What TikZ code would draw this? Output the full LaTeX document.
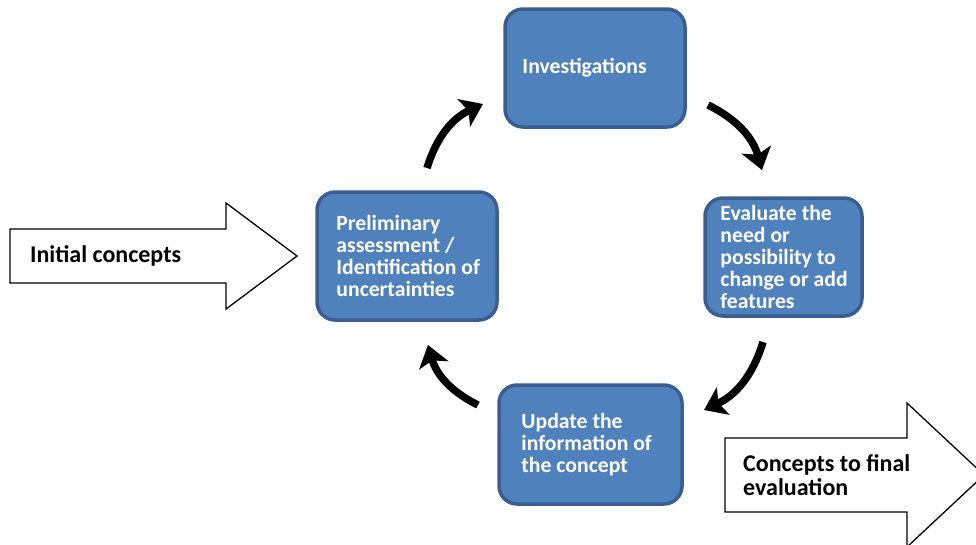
\documentclass[tikz,border=0pt]{standalone}
\usepackage{fontspec}
\setmainfont{Carlito}
\usetikzlibrary{arrows.meta}
\definecolor{stagefill}{HTML}{4F81BD}
\definecolor{stageline}{HTML}{3B5E91}
\begin{document}
\begin{tikzpicture}[x=1pt,y=-1pt,
  stage/.style={draw=stageline, line width=3.5pt, fill=stagefill,
    rounded corners=18pt, inner sep=0pt},
  stagetext/.style={anchor=west, align=left, text=white, inner sep=0pt,
    font=\bfseries\fontsize{21.7}{22}\selectfont},
  plaintext/.style={anchor=west, align=left, text=black, inner sep=0pt,
    font=\bfseries\fontsize{24}{24.5}\selectfont},
  blockarrow/.style={draw=black, line width=1.3pt, fill=white, line join=miter},
  flow/.style={line width=7.5pt, -{Stealth[length=21pt,width=30pt,inset=5pt]},
    bend left=24}]
\useasboundingbox (0,0) rectangle (976,544);
\clip (0,0) rectangle (976,544);

% cycle stages
\node[stage, minimum width=180pt, minimum height=118pt] (inv) at (595,68) {};
\node[stage, minimum width=180pt, minimum height=128pt] (pre) at (407,256) {};
\node[stage, minimum width=157pt, minimum height=118pt] (eva) at (783.5,257) {};
\node[stage, minimum width=183pt, minimum height=119pt] (upd) at (590.5,444.5) {};

\node[stagetext] (invtxt) at ([xshift=19pt]inv.west) {Investigations};
\node[stagetext] (pretxt) at ([xshift=21pt]pre.west)
  {Preliminary\\assessment /\\Identification of\\uncertainties};
\node[stagetext] (evatxt) at ([xshift=17pt]eva.west)
  {Evaluate the\\need or\\possibility to\\change or add\\features};
\node[stagetext] (updtxt) at ([xshift=24pt]upd.west)
  {Update the\\information of\\the concept};

% input and output block arrows
\draw[blockarrow] (10,229) -- (226,229) -- (226,203) -- (297,256)
  -- (226,309) -- (226,283) -- (10,283) -- cycle;
\node[plaintext] (intxt) at (30,256) {Initial concepts};

\draw[blockarrow] (725,438) -- (907,438) -- (907,403) -- (984,475)
  -- (907,547) -- (907,512) -- (725,512) -- cycle;
\node[plaintext] (outtxt) at (743,475) {Concepts to final\\evaluation};

% curved arrows between stages
\coordinate (a1s) at (427,168); \coordinate (a1e) at (483,104);
\coordinate (a2s) at (708,105); \coordinate (a2e) at (762,170);
\coordinate (a3s) at (763,342); \coordinate (a3e) at (704,410);
\coordinate (a4s) at (478,405); \coordinate (a4e) at (428,345);
\draw[flow] (a1s) to (a1e);
\draw[flow] (a2s) to (a2e);
\draw[flow] (a3s) to (a3e);
\draw[flow] (a4s) to (a4e);
\end{tikzpicture}
\end{document}
